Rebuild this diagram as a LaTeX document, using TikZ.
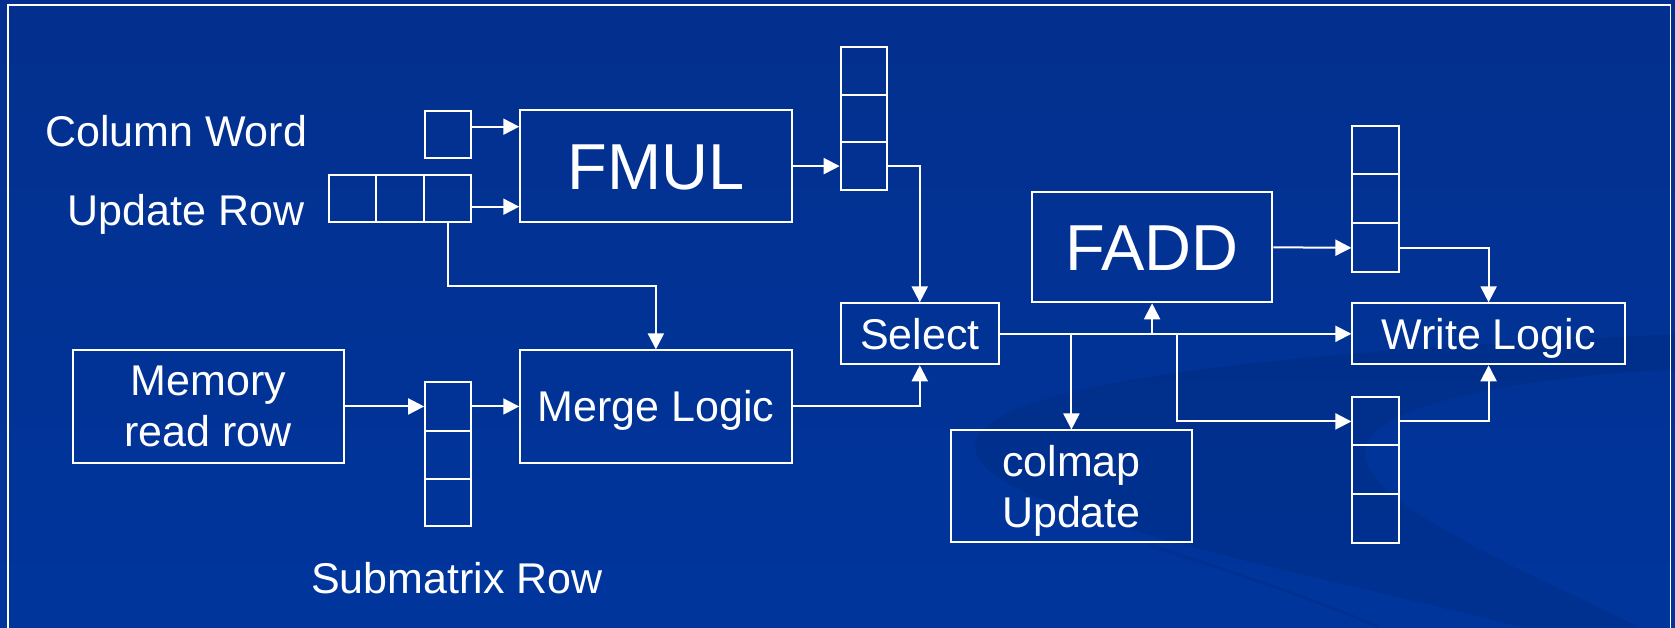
\documentclass[tikz,border=0pt]{standalone}
\usepackage{fontspec}
\setmainfont{Liberation Sans}
\usetikzlibrary{arrows.meta,fit,calc}
\definecolor{slide}{RGB}{0,53,156}
\definecolor{slidetop}{RGB}{3,48,142}

\begin{document}
\begin{tikzpicture}[x=1.0682pt,y=-1.0682pt,
  wire/.style={draw=white,line width=2pt},
  arr/.style={wire,-{Triangle[length=16pt,width=16pt]}},
  blk/.style={rectangle,draw=white,line width=2pt,inner sep=0pt,text=white,align=center,
              font=\fontsize{43}{51}\selectfont},
  oneline/.style={text height=30.8pt,text depth=0pt},
  unit/.style={blk,font=\fontsize{65}{70}\selectfont,text height=46.5pt,text depth=0pt},
  cell/.style={draw=white,line width=2pt,inner sep=0pt},
  lbl/.style={text=white,inner sep=0pt,anchor=base west,font=\fontsize{43}{51}\selectfont}]

% page and background
\useasboundingbox (0,0) rectangle (1568,587);
\shade[top color=slidetop,bottom color=slide] (0,0) rectangle (1568,587);

% faint swoosh decoration
\fill[black,opacity=0.07]
  (1568,313) .. controls (1217,328) and (917,356) .. (913,417)
  .. controls (908,477) and (1217,534) .. (1423,587)
  -- (1535,587) .. controls (1404,524) and (1273,468) .. (1278,421)
  .. controls (1283,374) and (1451,351) .. (1568,346) -- cycle;
\draw[black,opacity=0.06,line width=3pt]
  (1075,510) .. controls (1150,535) and (1230,560) .. (1290,587);

% frame
\draw[white,line width=1.5pt] (7.5,590) -- (7.5,4.7) -- (1564,4.7) -- (1564,590);

% labels
\node[lbl] (lcw) at (42,137.5) {Column Word};
\node[lbl] (lur) at (63,211.5) {Update Row};
\node[lbl] (lsm) at (291,556) {Submatrix Row};

% inputs
\node[cell,fit={(398,104) (441,148)}] (cw) {};
\node[cell,fit={(308,164) (352,208)}] (ur1) {};
\node[cell,fit={(352,164) (397,208)}] (ur2) {};
\node[cell,fit={(397,164) (441,208)}] (ur3) {};

% functional units
\node[unit,minimum width=271.3pt,minimum height=112.2pt] (fmul) at (614,155.5) {FMUL};
\node[unit,minimum width=240.3pt,minimum height=110pt] (fadd) at (1078.5,231.5) {FADD};

% logic blocks
\node[blk,oneline,minimum width=158.1pt,minimum height=60.9pt] (sel) at (861,312.5) {Select};
\node[blk,oneline,minimum width=271.3pt,minimum height=112.2pt] (merge) at (614,380.5) {Merge Logic};
\node[blk,minimum width=271.3pt,minimum height=112.2pt] (mem) at (195,380.5) {Memory\\read row};
\node[blk,oneline,minimum width=272.4pt,minimum height=60.9pt] (wr) at (1393.5,312.5) {Write Logic};
\node[blk,text depth=0pt,minimum width=241.4pt,minimum height=111.1pt] (cmap) at (1003,455) {colmap\\Update};

% register stacks
\node[cell,fit={(787,44) (830,89)}] (sa1) {};
\node[cell,fit={(787,89) (830,133)}] (sa2) {};
\node[cell,fit={(787,133) (830,178)}] (sa3) {};

\node[cell,fit={(398,358) (441,403)}] (sb1) {};
\node[cell,fit={(398,403) (441,448)}] (sb2) {};
\node[cell,fit={(398,448) (441,492)}] (sb3) {};

\node[cell,fit={(1266,118) (1310,163)}] (sc1) {};
\node[cell,fit={(1266,163) (1310,209)}] (sc2) {};
\node[cell,fit={(1266,209) (1310,255)}] (sc3) {};

\node[cell,fit={(1266,372) (1310,417)}] (sd1) {};
\node[cell,fit={(1266,417) (1310,462)}] (sd2) {};
\node[cell,fit={(1266,462) (1310,508)}] (sd3) {};

% port heights on the FMUL inputs
\coordinate (pcw) at (0,118.6);
\coordinate (pur) at (0,193.5);
\coordinate (mrg) at (0,267.7);

% FMUL side
\draw[arr] (cw.east |- pcw) -- (fmul.west |- pcw);
\draw[arr] (ur3.east |- pur) -- (fmul.west |- pur);
\draw[arr] (ur3.south) -- (ur3.south |- mrg) -| (merge.north);
\draw[arr] (fmul.east) -- (sa3.west);
\draw[arr] (sa3.east) -| (sel.north);

% memory path
\draw[arr] (mem.east) -- (sb1.west);
\draw[arr] (sb1.east) -- (merge.west);
\draw[arr] (merge.east) -| (sel.south);

% select output bus
\draw[arr] (sel.east) -- (wr.west);
\coordinate (tfadd) at (sel.east -| fadd.south);
\coordinate (tcmap) at (sel.east -| cmap.north);
\coordinate (tfork) at ($(sel.east)+(166,0)$);
\draw[arr] (tfadd) -- (fadd.south);
\draw[arr] (tcmap) -- (cmap.north);
\draw[arr] (tfork) |- (sd1.west);

% FADD side
\draw[arr] (fadd.east) -- (sc3.west);
\draw[arr] (sc3.east) -| (wr.north);
\draw[arr] (sd1.east) -| (wr.south);

\end{tikzpicture}
\end{document}
